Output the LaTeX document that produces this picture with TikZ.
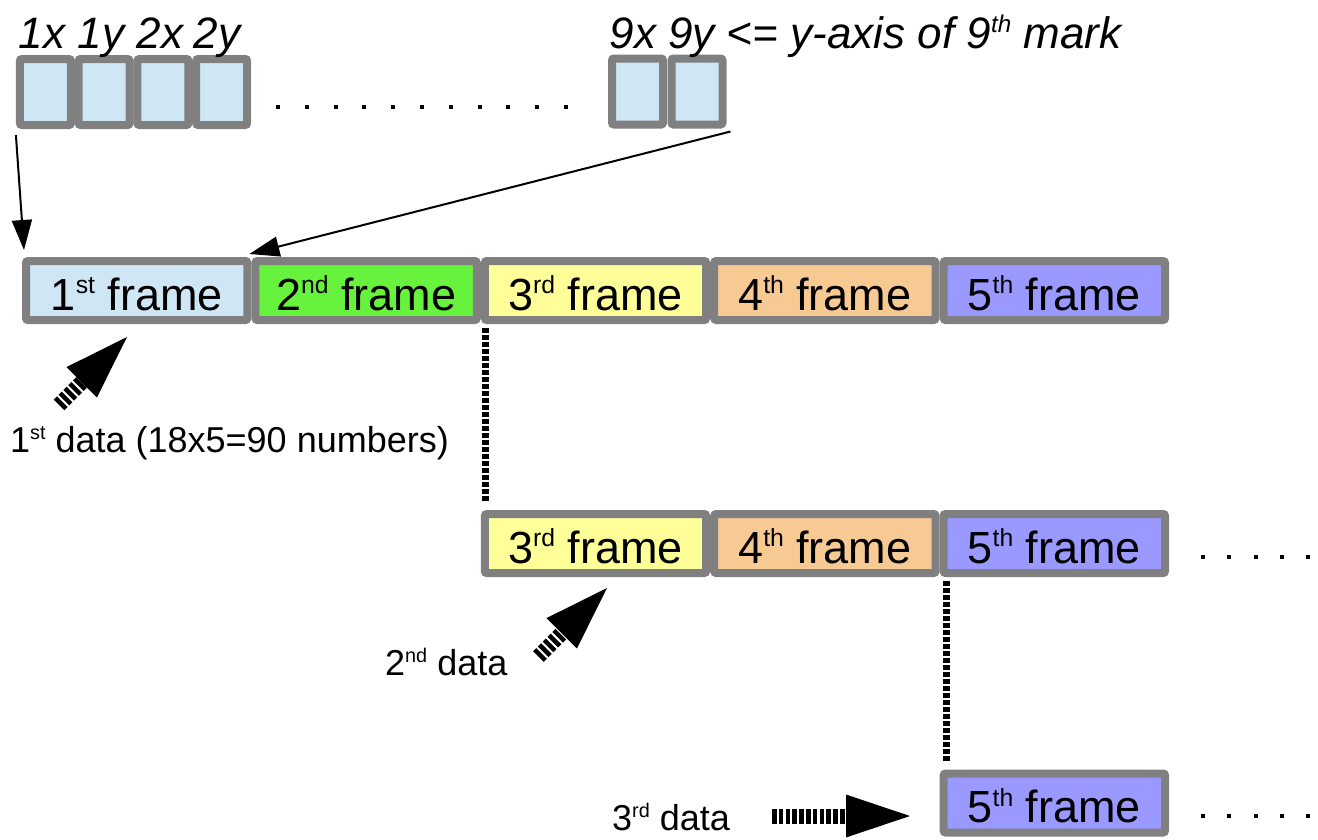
\documentclass[tikz,border=0pt]{standalone}
\usepackage{fontspec}
\setmainfont{Liberation Sans}
\usepackage{graphicx}
\usetikzlibrary{arrows.meta}
\definecolor{framegray}{HTML}{808080}
\definecolor{cellblue}{HTML}{CFE7F5}
\definecolor{fgreen}{HTML}{66F23D}
\definecolor{fyellow}{HTML}{FFFF99}
\definecolor{fpeach}{HTML}{F7C993}
\definecolor{fviolet}{HTML}{9999FF}
\newcommand\supx[1]{\raisebox{0.36em}{\scalebox{0.55}{#1}}}
\begin{document}
\begin{tikzpicture}[x=1pt,y=-1pt,
  frame/.style={draw=framegray, line width=8pt, minimum width=221.4pt, minimum height=59pt,
    inner sep=0pt, rounded corners=2pt, font=\fontsize{45}{50}\selectfont,
    text height=39pt, text depth=0pt},
  cell/.style={draw=framegray, line width=8pt, fill=cellblue, minimum width=51pt,
    minimum height=66pt, inner sep=0pt, rounded corners=2pt},
  toplbl/.style={font=\fontsize{44}{48}\selectfont\itshape, anchor=base, inner sep=0pt},
  datalbl/.style={font=\fontsize{36}{40}\selectfont, anchor=base west, inner sep=0pt},
  link/.style={line width=2pt, -{Triangle[length=30pt,width=20pt]}},
  vdots/.style={line width=7pt, dash pattern=on 5pt off 2pt},
  dotm/.style={fill=black, minimum size=4pt, inner sep=0pt},
  pics/bigarrow/.style={code={
    \fill[black] (0,0) -- (-64,-21.5) -- (-64,21.5) -- cycle;
    \draw[black, line width=15pt, dash pattern=on 4.5pt off 2.3pt] (-64-#1,0) -- (-64,0);
  }}
]
\useasboundingbox (0,0) rectangle (1318,839);

% top cells
\foreach \i/\x in {1/45.4,2/104.1,3/162.9,4/221.6} {
  \node[cell] (c\i) at (\x,92) {};
}
\node[cell] (c9x) at (637.5,91.5) {};
\node[cell] (c9y) at (697,91.5) {};

% top labels
\node[toplbl] (l1x) at (42,48) {1x};
\node[toplbl] (l1y) at (101,48) {1y};
\node[toplbl] (l2x) at (160,48) {2x};
\node[toplbl] (l2y) at (217,48) {2y};
\node[toplbl] (l9x) at (633,48) {9x};
\node[toplbl, anchor=base west] (l9y) at (668,48) {9y <= y-axis of 9\supx{th} mark};

% top dots
\foreach \k in {0,...,10} {
  \node[dotm] (td\k) at (278+28.8*\k,107) {};
}

% frames row 1
\node[frame, fill=cellblue] (a1) at (136.7,290.5) {1\supx{st} frame};
\node[frame, fill=fgreen]   (a2) at (366.1,290.5) {2\supx{nd} frame};
\node[frame, fill=fyellow]  (a3) at (595.5,290.5) {3\supx{rd} frame};
\node[frame, fill=fpeach]   (a4) at (824.9,290.5) {4\supx{th} frame};
\node[frame, fill=fviolet]  (a5) at (1054.3,290.5) {5\supx{th} frame};

% frames row 2
\node[frame, fill=fyellow]  (b3) at (595.5,543.5) {3\supx{rd} frame};
\node[frame, fill=fpeach]   (b4) at (824.9,543.5) {4\supx{th} frame};
\node[frame, fill=fviolet]  (b5) at (1054.3,543.5) {5\supx{th} frame};

% frame row 3
\node[frame, fill=fviolet]  (g5) at (1054.3,803) {5\supx{th} frame};

% right dots
\foreach \k in {0,...,4} {
  \node[dotm] (rd\k) at (1203+26.3*\k,557) {};
  \node[dotm] (sd\k) at (1203+26.3*\k,816) {};
}

% thin arrows
\draw[link] ([xshift=0pt,yshift=-6pt]c1.south west) -- ([xshift=2pt,yshift=7pt]a1.north west);
\draw[link] ([xshift=4pt,yshift=-3pt]c9y.south east) -- ([xshift=-2pt,yshift=3pt]a2.north west);

% dotted vertical lines
\draw[vdots] ([xshift=5pt,yshift=-4pt]a3.south west) -- ([xshift=5pt,yshift=8pt]b3.north west);
\draw[vdots] ([xshift=7pt,yshift=-4pt]b5.south west) -- ([xshift=7pt,yshift=8pt]g5.north west);

% big striped arrows
\coordinate (t1) at (127,337);
\coordinate (t2) at (607,588);
\coordinate (t3) at (910,816);
\pic[rotate=45] at (t1) {bigarrow=32};
\pic[rotate=45] at (t2) {bigarrow=33};
\pic at (t3) {bigarrow=74};

% data labels
\node[datalbl] (d1) at (10,452) {1\supx{st} data (18x5=90 numbers)};
\node[datalbl] (d2) at (385,675) {2\supx{nd} data};
\node[datalbl] (d3) at (612,830) {3\supx{rd} data};
\end{tikzpicture}
\end{document}
